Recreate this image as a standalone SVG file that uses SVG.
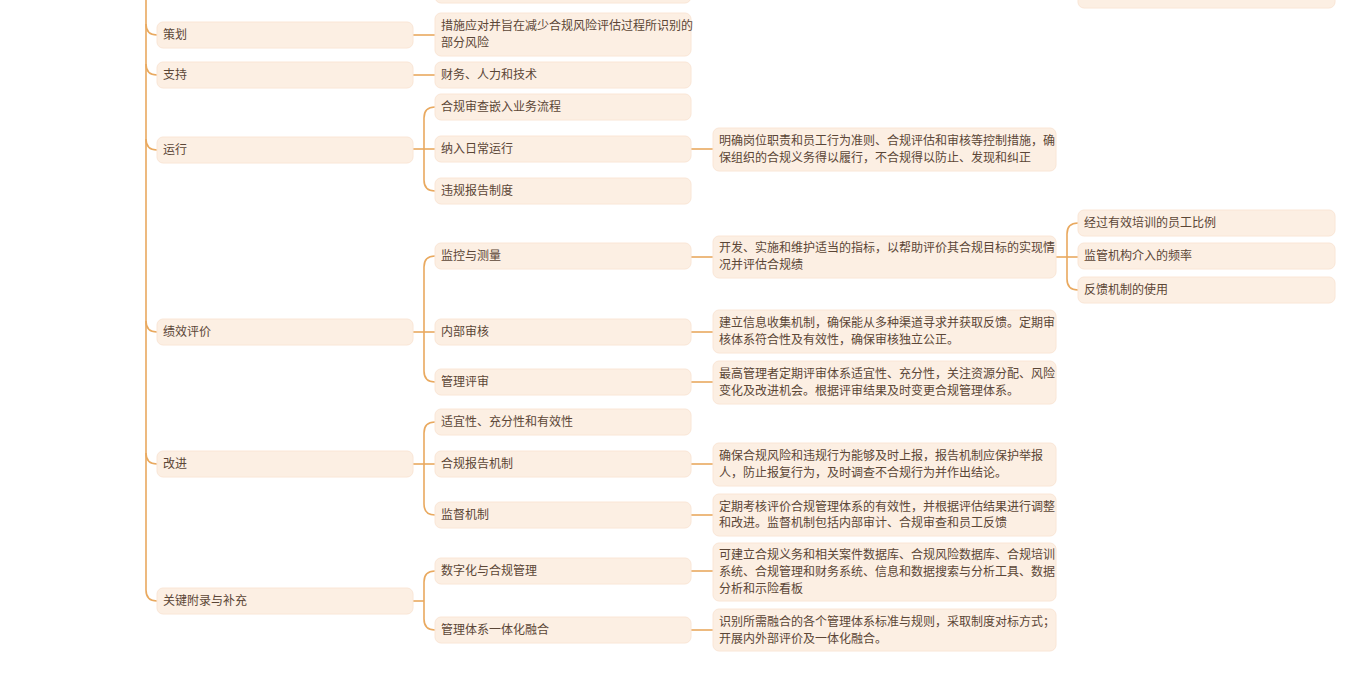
<svg xmlns="http://www.w3.org/2000/svg" width="1368" height="680" viewBox="0 0 1368 680">
<style>
.n rect{fill:#fcefe3;stroke:#fae6d6;stroke-width:1}
.n text{font-family:"Noto Sans CJK SC","Noto Sans",sans-serif;font-size:12px;fill:#5b4636}
.c path{fill:none;stroke:#e9a95f;stroke-width:1.6}
</style>
<rect width="1368" height="680" fill="#ffffff"/>
<g class="c">
<path d="M146,0 V590 Q146,601 157,601"/>
<path d="M146,24 Q146,35 157,35"/><path d="M146,64 Q146,75 157,75"/><path d="M146,139 Q146,150 157,150"/><path d="M146,321 Q146,332 157,332"/><path d="M146,453 Q146,464 157,464"/>
<path d="M413,35 H435"/><path d="M413,75 H435"/>
<path d="M413,149 H435"/><path d="M435,107 Q424,107 424,118 V180 Q424,191 435,191"/>
<path d="M413,332 H435"/><path d="M435,256 Q424,256 424,267 V371 Q424,382 435,382"/>
<path d="M413,464 H435"/><path d="M435,422 Q424,422 424,433 V504 Q424,515 435,515"/>
<path d="M413,601 H424"/><path d="M435,571 Q424,571 424,582 V619 Q424,630 435,630"/>
<path d="M691,149 H713"/><path d="M691,257 H713"/><path d="M691,332 H713"/><path d="M691,382 H713"/><path d="M691,464 H713"/><path d="M691,515 H713"/><path d="M691,571 H713"/><path d="M691,630 H713"/>
<path d="M1056,257 H1078"/><path d="M1078,223 Q1067,223 1067,234 V279 Q1067,290 1078,290"/>
</g>
<g class="n" id="top-a"><rect x="435" y="-20" width="256" height="23" rx="6"/></g>
<g class="n" id="top-b"><rect x="1078" y="-20" width="257" height="28" rx="6"/></g>
<g class="n" id="n-cehua"><rect x="157" y="22" width="256" height="26" rx="6"/><text x="163" y="39">策划</text></g>
<g class="n" id="n-zhichi"><rect x="157" y="62" width="256" height="26" rx="6"/><text x="163" y="79">支持</text></g>
<g class="n" id="n-yunxing"><rect x="157" y="137" width="256" height="26" rx="6"/><text x="163" y="154">运行</text></g>
<g class="n" id="n-jixiao"><rect x="157" y="319" width="256" height="26" rx="6"/><text x="163" y="336">绩效评价</text></g>
<g class="n" id="n-gaijin"><rect x="157" y="451" width="256" height="26" rx="6"/><text x="163" y="468">改进</text></g>
<g class="n" id="n-fulu"><rect x="157" y="588" width="256" height="26" rx="6"/><text x="163" y="605">关键附录与补充</text></g>
<g class="n" id="c-cehua"><rect x="435" y="13" width="256" height="43" rx="6"/><text x="441" y="30">措施应对并旨在减少合规风险评估过程所识别的</text><text x="441" y="47">部分风险</text></g>
<g class="n" id="c-zhichi"><rect x="435" y="62" width="256" height="26" rx="6"/><text x="441" y="79">财务、人力和技术</text></g>
<g class="n" id="c-hegui"><rect x="435" y="94" width="256" height="26" rx="6"/><text x="441" y="111">合规审查嵌入业务流程</text></g>
<g class="n" id="c-naru"><rect x="435" y="136" width="256" height="26" rx="6"/><text x="441" y="153">纳入日常运行</text></g>
<g class="n" id="c-weigui"><rect x="435" y="178" width="256" height="26" rx="6"/><text x="441" y="195">违规报告制度</text></g>
<g class="n" id="c-jiankong"><rect x="435" y="243" width="256" height="26" rx="6"/><text x="441" y="260">监控与测量</text></g>
<g class="n" id="c-neibu"><rect x="435" y="319" width="256" height="26" rx="6"/><text x="441" y="336">内部审核</text></g>
<g class="n" id="c-guanli"><rect x="435" y="369" width="256" height="26" rx="6"/><text x="441" y="386">管理评审</text></g>
<g class="n" id="c-shiyi"><rect x="435" y="409" width="256" height="26" rx="6"/><text x="441" y="426">适宜性、充分性和有效性</text></g>
<g class="n" id="c-baogao"><rect x="435" y="451" width="256" height="26" rx="6"/><text x="441" y="468">合规报告机制</text></g>
<g class="n" id="c-jiandu"><rect x="435" y="502" width="256" height="26" rx="6"/><text x="441" y="519">监督机制</text></g>
<g class="n" id="c-shuzi"><rect x="435" y="558" width="256" height="26" rx="6"/><text x="441" y="575">数字化与合规管理</text></g>
<g class="n" id="c-yiti"><rect x="435" y="617" width="256" height="26" rx="6"/><text x="441" y="634">管理体系一体化融合</text></g>
<g class="n" id="d-naru"><rect x="713" y="128" width="343" height="43" rx="6"/><text x="719" y="145">明确岗位职责和员工行为准则、合规评估和审核等控制措施，确</text><text x="719" y="162">保组织的合规义务得以履行，不合规得以防止、发现和纠正</text></g>
<g class="n" id="d-jiankong"><rect x="713" y="236" width="343" height="42" rx="6"/><text x="719" y="252">开发、实施和维护适当的指标，以帮助评价其合规目标的实现情</text><text x="719" y="269">况并评估合规绩</text></g>
<g class="n" id="d-neibu"><rect x="713" y="310" width="343" height="43" rx="6"/><text x="719" y="327">建立信息收集机制，确保能从多种渠道寻求并获取反馈。定期审</text><text x="719" y="344">核体系符合性及有效性，确保审核独立公正。</text></g>
<g class="n" id="d-guanli"><rect x="713" y="361" width="343" height="43" rx="6"/><text x="719" y="378">最高管理者定期评审体系适宜性、充分性，关注资源分配、风险</text><text x="719" y="395">变化及改进机会。根据评审结果及时变更合规管理体系。</text></g>
<g class="n" id="d-baogao"><rect x="713" y="443" width="343" height="43" rx="6"/><text x="719" y="460">确保合规风险和违规行为能够及时上报，报告机制应保护举报</text><text x="719" y="477">人，防止报复行为，及时调查不合规行为并作出结论。</text></g>
<g class="n" id="d-jiandu"><rect x="713" y="494" width="343" height="42" rx="6"/><text x="719" y="511">定期考核评价合规管理体系的有效性，并根据评估结果进行调整</text><text x="719" y="527">和改进。监督机制包括内部审计、合规审查和员工反馈</text></g>
<g class="n" id="d-shuzi"><rect x="713" y="543" width="343" height="58" rx="6"/><text x="719" y="559">可建立合规义务和相关案件数据库、合规风险数据库、合规培训</text><text x="719" y="576">系统、合规管理和财务系统、信息和数据搜索与分析工具、数据</text><text x="719" y="593">分析和示险看板</text></g>
<g class="n" id="d-yiti"><rect x="713" y="609" width="343" height="42" rx="6"/><text x="719" y="626">识别所需融合的各个管理体系标准与规则，采取制度对标方式；</text><text x="719" y="643">开展内外部评价及一体化融合。</text></g>
<g class="n" id="e-peixun"><rect x="1078" y="210" width="257" height="26" rx="6"/><text x="1084" y="227">经过有效培训的员工比例</text></g>
<g class="n" id="e-jianguan"><rect x="1078" y="243" width="257" height="26" rx="6"/><text x="1084" y="260">监管机构介入的频率</text></g>
<g class="n" id="e-fankui"><rect x="1078" y="277" width="257" height="26" rx="6"/><text x="1084" y="294">反馈机制的使用</text></g>
</svg>
